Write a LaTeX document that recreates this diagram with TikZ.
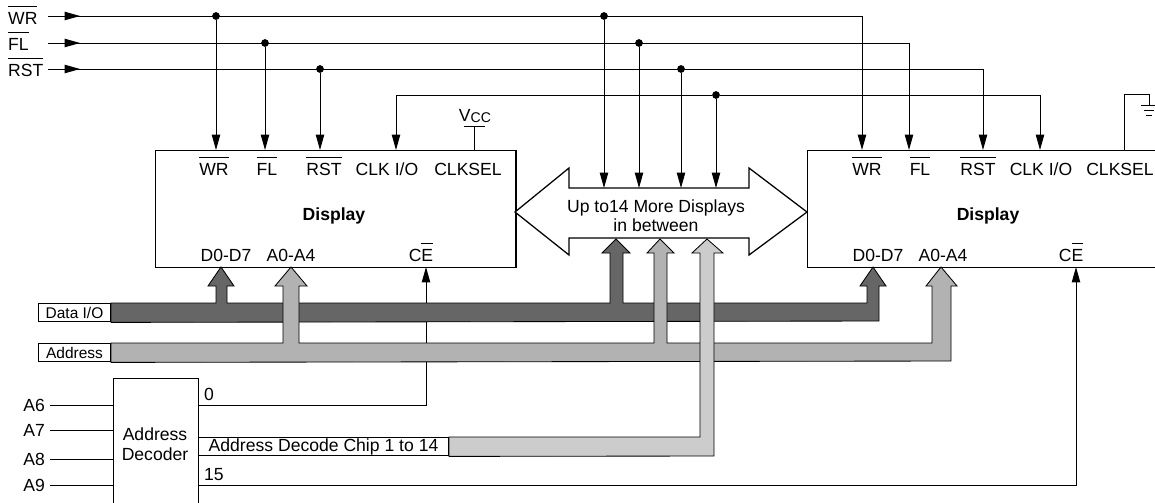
\documentclass[tikz,border=0pt]{standalone}
\usepackage{fontspec}
\setmainfont{Liberation Sans}
\usepackage{tikz}
\usetikzlibrary{arrows.meta}
\usetikzlibrary{decorations.markings}
\usetikzlibrary{positioning}
\newcommand{\invsig}[1]{$\overline{\mbox{\rule{0pt}{0.92em}#1}}$}
\tikzset{sig/.style = {-{Triangle[length=11pt, width=6pt]}}}
\tikzset{inarrow/.style = {decoration={markings,
                                       mark=at position 0.8cm with {\arrow{Triangle[length=11pt, width=6pt]}}},
                           postaction={decorate}}}
\tikzset{junc/.style = {fill, circle, inner sep = 0, minimum size = 5.5pt}}
\tikzset{chip/.style = {draw, line width = 1pt, inner sep = 0, anchor = north west}}
\tikzset{bus/.style = {draw, line width = 0.6pt}}
\tikzset{buslbl/.style = {draw, fill = white, inner sep = 0, anchor = north west,
                          minimum width = 1.8cm, minimum height = 0.46cm,
                          font = \fontsize{11}{12}\selectfont}}

\begin{document}
\begin{tikzpicture}[x=0.025cm, y=-0.025cm, line width=0.7pt, font=\fontsize{12.5}{13.5}\selectfont]
      \clip (0, 0) rectangle (1155, 502);

      % the two displays
      \node [chip, minimum width = 9cm, minimum height = 2.925cm] (disp1) at (155, 150) {};
      \node [chip, minimum width = 9cm, minimum height = 2.925cm] (disp2) at (807, 150) {};

      \node [anchor=base] (wrA) at (214, 175) {\invsig{WR}};
      \node [anchor=base] (flA) at (267, 175) {\invsig{FL}};
      \node [anchor=base] (rstA) at (324, 175) {\invsig{RST}};
      \node [anchor=base] (clkA) at (387, 175) {CLK I/O};
      \node [anchor=base] (selA) at (468, 175) {CLKSEL};
      \node [anchor=base, font=\fontsize{12.5}{13.5}\selectfont\bfseries] (nameA) at (334, 220) {Display};
      \node [anchor=base] (dA) at (226, 261) {D0-D7};
      \node [anchor=base] (aA) at (291, 261) {A0-A4};
      \node [anchor=base] (ceA) at (421, 261) {C\invsig{E}};

      \node [anchor=base] (wrB) at (867, 175) {\invsig{WR}};
      \node [anchor=base] (flB) at (920, 175) {\invsig{FL}};
      \node [anchor=base] (rstB) at (978, 175) {\invsig{RST}};
      \node [anchor=base] (clkB) at (1041, 175) {CLK I/O};
      \node [anchor=base] (selB) at (1120, 175) {CLKSEL};
      \node [anchor=base, font=\fontsize{12.5}{13.5}\selectfont\bfseries] (nameB) at (988, 220) {Display};
      \node [anchor=base] (dB) at (878, 261) {D0-D7};
      \node [anchor=base] (aB) at (943, 261) {A0-A4};
      \node [anchor=base] (ceB) at (1071, 261) {C\invsig{E}};

      % pin entry points
      \coordinate (pWR2) at (862, 150);
      \coordinate (pFL2) at (909, 150);
      \coordinate (pRST2) at (983, 150);
      \coordinate (pCLK1) at (396, 150);
      \coordinate (pCLK2) at (1040, 150);
      \coordinate (pSEL1) at (474, 150);
      \coordinate (pSEL2) at (1124, 150);
      \coordinate (pCE1) at (426, 267);
      \coordinate (pCE2) at (1076, 267);

      % control inputs
      \node [anchor=base west] (inWR) at (3, 24) {\invsig{WR}};
      \node [anchor=base west] (inFL) at (3, 50) {\invsig{FL}};
      \node [anchor=base west] (inRST) at (3, 76) {\invsig{RST}};
      \coordinate (sWR) at (48, 16);
      \coordinate (sFL) at (48, 43);
      \coordinate (sRST) at (48, 69);

      \draw [inarrow, sig] (sWR) -| (pWR2);
      \draw [inarrow, sig] (sFL) -| (pFL2);
      \draw [inarrow, sig] (sRST) -| (pRST2);

      \node [junc] (jWR1) at (216, 16) {};
      \node [junc] (jFL1) at (265, 43) {};
      \node [junc] (jRST1) at (320, 69) {};
      \node [junc] (jWR2) at (604, 16) {};
      \node [junc] (jFL2) at (639, 43) {};
      \node [junc] (jRST2) at (681, 69) {};
      \node [junc] (jCLK) at (716, 95) {};

      \draw [sig] (jCLK) -| (pCLK1);
      \draw [sig] (jCLK) -| (pCLK2);

      \draw [sig] (jWR1) -- (jWR1 |- disp1.north);
      \draw [sig] (jFL1) -- (jFL1 |- disp1.north);
      \draw [sig] (jRST1) -- (jRST1 |- disp1.north);

      % clock select
      \coordinate (vcc) at (474, 126);
      \draw (pSEL1) -- (vcc);
      \draw (464, 126) -- (485, 126);
      \node [anchor=base] (vccL) at (475, 121) {V\raisebox{-0.2ex}{\fontsize{10}{11}\selectfont CC}};

      \coordinate (gnd) at (1149, 105);
      \draw (pSEL2) -- ++(0, -56) -| (gnd);
      \draw (1141, 105) -- (1157, 105);
      \draw (1144, 110) -- (1154, 110);
      \draw (1146, 115) -- (1152, 115);

      % more displays
      \draw [line width = 0.9pt, fill = white] (515, 212) -- (569, 168) -- (569, 188) -- (749, 188) -- (749, 168)
            -- (807, 212) -- (749, 255) -- (749, 238) -- (569, 238) -- (569, 255) -- cycle;
      \node [align=center] (more) at (656, 216) {Up to14 More Displays\\in between};
      \coordinate (mtop) at (656, 188);

      \draw [sig] (jWR2) -- (jWR2 |- mtop);
      \draw [sig] (jFL2) -- (jFL2 |- mtop);
      \draw [sig] (jRST2) -- (jRST2 |- mtop);
      \draw [sig] (jCLK) -- (jCLK |- mtop);

      % address decoder
      \node [chip, minimum width = 2.125cm, minimum height = 3.75cm] (dec) at (113, 378) {};
      \node [align=center, font=\fontsize{12.5}{14.6}\selectfont] (decL) at (155, 444) {Address\\Decoder};

      \node [anchor=east] (A6) at (50, 405) {A6};
      \node [anchor=east] (A7) at (50, 430) {A7};
      \node [anchor=east] (A8) at (50, 459) {A8};
      \node [anchor=east] (A9) at (50, 485) {A9};
      \draw (A6) -- (A6 -| dec.west);
      \draw (A7) -- (A7 -| dec.west);
      \draw (A8) -- (A8 -| dec.west);
      \draw (A9) -- (A9 -| dec.west);

      \node [anchor=base west] (out0) at (199, 400) {0};
      \node [anchor=base west] (out15) at (199, 480) {15};
      \draw [sig] (dec.east |- A6) -| (pCE1);
      \draw [sig] (dec.east |- A9) -| (pCE2);

      % buses
      \node [buslbl] (dlab) at (38, 303) {Data I/O};
      \node [buslbl] (alab) at (38, 343) {Address};
      \node [draw, fill = white, anchor = north west, inner sep = 0,
             minimum width = 6.25cm, minimum height = 0.46cm] (adc) at (198, 437)
            {Address Decode Chip 1 to 14};

      \draw [bus, fill = black!60] (dlab.north east) -- (216, 303) -- (216, 286) -- (208, 286) -- (221, 267)
            -- (234, 286) -- (227, 286) -- (227, 303) -- (610, 303) -- (610, 253) -- (602, 253) -- (616, 239)
            -- (630, 253) -- (623, 253) -- (623, 303) -- (867, 303) -- (867, 286) -- (860, 286) -- (873, 267)
            -- (886, 286) -- (879, 286) -- (879, 321) -- (dlab.south east) -- cycle;

      \draw [bus, fill = black!30] (alab.north east) -- (283, 343) -- (283, 286) -- (275, 286) -- (291, 267)
            -- (307, 286) -- (299, 286) -- (299, 343) -- (654, 343) -- (654, 253) -- (647, 253) -- (660, 239)
            -- (674, 253) -- (667, 253) -- (667, 343) -- (932, 343) -- (932, 286) -- (926, 286) -- (941, 267)
            -- (957, 286) -- (951, 286) -- (951, 361) -- (alab.south east) -- cycle;

      \draw [bus, fill = black!20] (adc.north east) -- (700, 437) -- (700, 253) -- (692, 253) -- (707, 239)
            -- (723, 253) -- (714, 253) -- (714, 456) -- (adc.south east) -- cycle;

    \end{tikzpicture}
\end{document}
